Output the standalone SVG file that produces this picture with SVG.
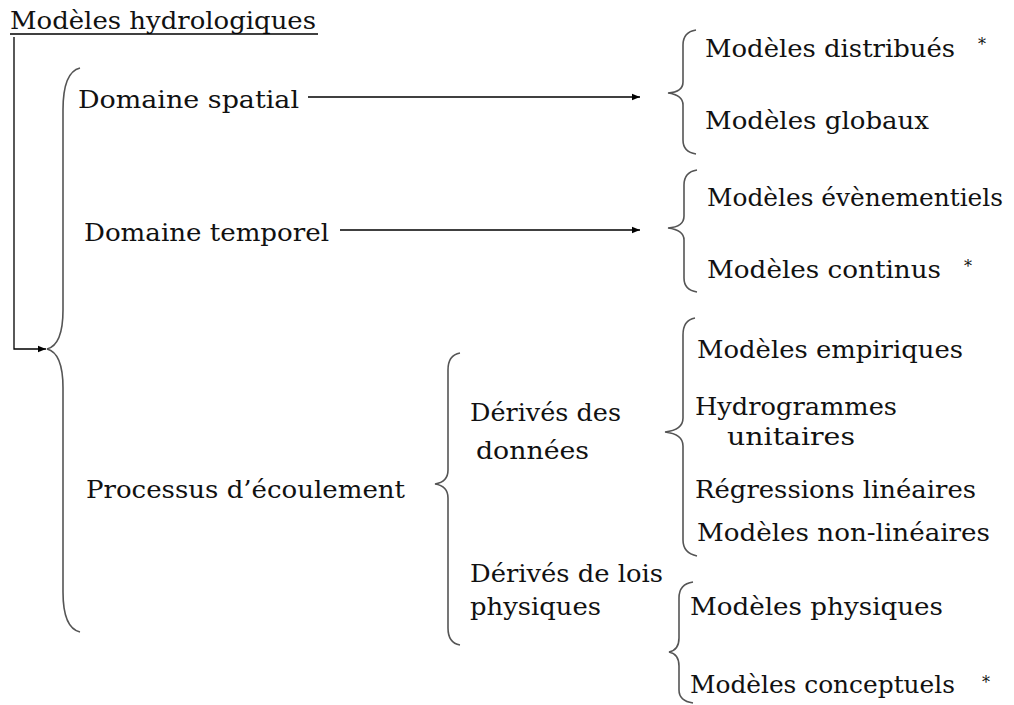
<svg xmlns="http://www.w3.org/2000/svg" width="1014" height="705" viewBox="0 0 1014 705">
<style>
text{font-family:"DejaVu Serif","Liberation Serif",serif;font-size:24px;fill:#111}
.star{font-size:16px}
.brace{fill:none;stroke:#555;stroke-width:1.6}
.conn{fill:none;stroke:#000;stroke-width:1.3}
</style>
<defs>
<marker id="ah" viewBox="0 0 10 10" refX="10" refY="5" markerWidth="8" markerHeight="8" markerUnits="userSpaceOnUse" orient="auto">
<path d="M0,1 L10,5 L0,9 Z" fill="#000"/>
</marker>
</defs>
<rect width="1014" height="705" fill="#fff"/>
<g id="title">
<text x="10" y="29" textLength="306" lengthAdjust="spacingAndGlyphs">Modèles hydrologiques</text>
<line x1="10" y1="34" x2="318" y2="34" stroke="#000" stroke-width="1.3"/>
</g>
<g id="connectors">
<path class="conn" d="M14,37 V349 H46" marker-end="url(#ah)"/>
<path class="conn" d="M308,97 H640" marker-end="url(#ah)"/>
<path class="conn" d="M340,230 H640" marker-end="url(#ah)"/>
</g>
<g id="brace-main"><path class="brace" d="M80,68 Q63,72 63,110 V310 Q63,345 47,349 Q63,353 63,388 V592 Q63,628 80,632"/></g>
<g id="brace-spatial"><path class="brace" d="M696,30 Q683,32 683,45 V82 Q683,92 668,93 Q683,95 683,105 V140 Q683,152 696,154"/></g>
<g id="brace-temporel"><path class="brace" d="M697,170 Q684,172 684,185 V216 Q684,227 668,228 Q684,230 684,240 V278 Q684,290 697,292"/></g>
<g id="brace-processus"><path class="brace" d="M460,353 Q448,355 448,370 V470 Q448,482 435,484 Q448,486 448,498 V628 Q448,643 460,645"/></g>
<g id="brace-donnees"><path class="brace" d="M695,318 Q683,320 683,335 V418 Q683,430 665,432 Q683,434 683,446 V540 Q683,553 697,556"/></g>
<g id="brace-lois"><path class="brace" d="M693,582 Q679,584 679,598 V638 Q679,650 669,652 Q679,654 679,666 V690 Q679,701 693,703"/></g>
<g id="n-spatial"><text x="78" y="108" textLength="221" lengthAdjust="spacingAndGlyphs">Domaine spatial</text></g>
<g id="n-temporel"><text x="84" y="241" textLength="245" lengthAdjust="spacingAndGlyphs">Domaine temporel</text></g>
<g id="n-processus"><text x="86" y="498" textLength="319" lengthAdjust="spacingAndGlyphs">Processus d’écoulement</text></g>
<g id="n-donnees"><text x="470" y="421" textLength="151" lengthAdjust="spacingAndGlyphs">Dérivés des</text><text x="476" y="459" textLength="113" lengthAdjust="spacingAndGlyphs">données</text></g>
<g id="n-lois"><text x="470" y="582" textLength="193" lengthAdjust="spacingAndGlyphs">Dérivés de lois</text><text x="470" y="615" textLength="131" lengthAdjust="spacingAndGlyphs">physiques</text></g>
<g id="n-distribues"><text x="705" y="57" textLength="250" lengthAdjust="spacingAndGlyphs">Modèles distribués</text><text class="star" x="978" y="50">*</text></g>
<g id="n-globaux"><text x="705" y="129" textLength="224" lengthAdjust="spacingAndGlyphs">Modèles globaux</text></g>
<g id="n-evenementiels"><text x="707" y="206" textLength="296" lengthAdjust="spacingAndGlyphs">Modèles évènementiels</text></g>
<g id="n-continus"><text x="707" y="278" textLength="234" lengthAdjust="spacingAndGlyphs">Modèles continus</text><text class="star" x="964" y="272">*</text></g>
<g id="n-empiriques"><text x="697" y="358" textLength="266" lengthAdjust="spacingAndGlyphs">Modèles empiriques</text></g>
<g id="n-hydrogrammes"><text x="695" y="415" textLength="202" lengthAdjust="spacingAndGlyphs">Hydrogrammes</text><text x="727" y="445" textLength="128" lengthAdjust="spacingAndGlyphs">unitaires</text></g>
<g id="n-regressions"><text x="695" y="498" textLength="281" lengthAdjust="spacingAndGlyphs">Régressions linéaires</text></g>
<g id="n-nonlineaires"><text x="697" y="541" textLength="293" lengthAdjust="spacingAndGlyphs">Modèles non-linéaires</text></g>
<g id="n-physiques"><text x="690" y="615" textLength="253" lengthAdjust="spacingAndGlyphs">Modèles physiques</text></g>
<g id="n-conceptuels"><text x="690" y="693" textLength="265" lengthAdjust="spacingAndGlyphs">Modèles conceptuels</text><text class="star" x="982" y="688">*</text></g>
</svg>
